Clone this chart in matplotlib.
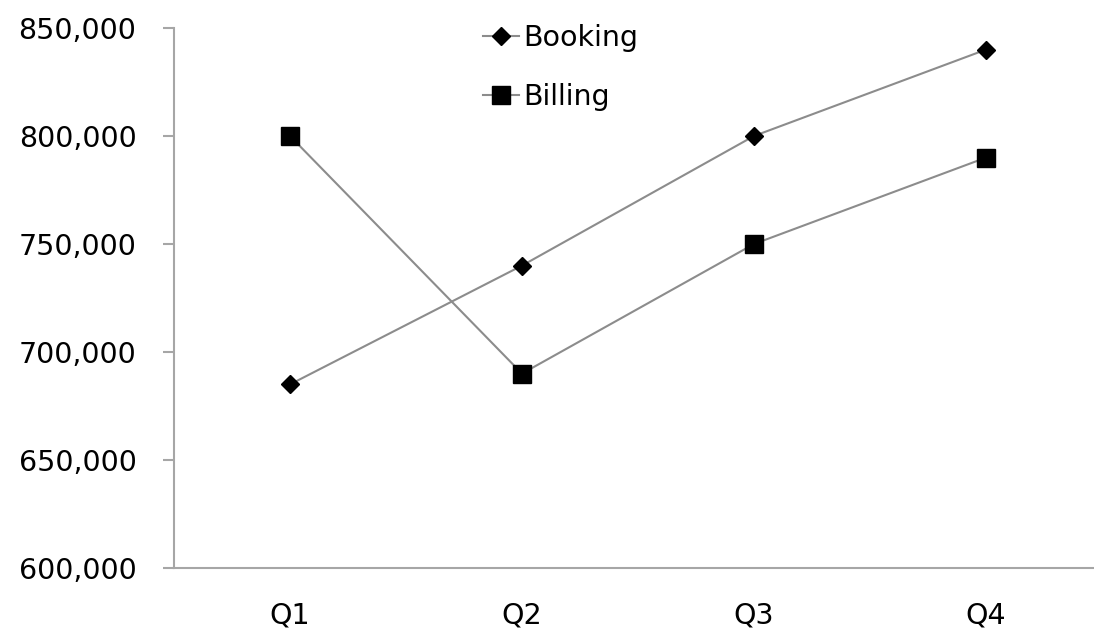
import matplotlib
matplotlib.use("Agg")
import matplotlib.pyplot as plt
from matplotlib.ticker import FuncFormatter

categories = ["Q1", "Q2", "Q3", "Q4"]
booking = [685000, 740000, 800000, 840000]
billing = [800000, 690000, 750000, 790000]
y_ticks = [600000, 650000, 700000, 750000, 800000, 850000]

plt.rcParams["font.family"] = ["DejaVu Sans"]

W, H = 1094, 628
FS = 20.5
fig = plt.figure(figsize=(W / 100, H / 100), dpi=100)
left, right, bottom, top = 174, 1094, 60, 600
ax = fig.add_axes([left / W, bottom / H, (right - left) / W, (top - bottom) / H])

x = list(range(len(categories)))
line_color = "#8c8c8c"
ax.plot(x, booking, color=line_color, lw=1.5, marker="D", ms=9,
        mfc="black", mec="black", label="Booking", zorder=3)
ax.plot(x, billing, color=line_color, lw=1.5, marker="s", ms=13,
        mfc="black", mec="black", label="Billing", zorder=3)

ax.set_xlim(-0.5, 3.5 - 8 / 232)
ax.set_ylim(600000, 850000)
ax.set_xticks(x)
ax.set_xticklabels(categories)
ax.set_yticks(y_ticks)
ax.yaxis.set_major_formatter(FuncFormatter(lambda v, p: f"{int(v):,}"))

for s in ["top", "right"]:
    ax.spines[s].set_visible(False)
for s in ["left", "bottom"]:
    ax.spines[s].set_color("#a6a6a6")
    ax.spines[s].set_linewidth(1.5)

ax.tick_params(axis="y", length=8, width=1.5, color="#a6a6a6", labelsize=FS, pad=19)
ax.tick_params(axis="x", length=0, labelsize=FS, pad=24)

# legend placed by its top-left corner in figure pixels
leg = fig.legend(loc="upper left", bbox_to_anchor=(483 / W, 1 - 24 / H),
                 bbox_transform=fig.transFigure, frameon=False,
                 fontsize=FS, handlelength=1.25, handletextpad=0.18,
                 labelspacing=1.1, borderpad=0, borderaxespad=0)

fig.savefig("out.png", dpi=100, facecolor="white")
